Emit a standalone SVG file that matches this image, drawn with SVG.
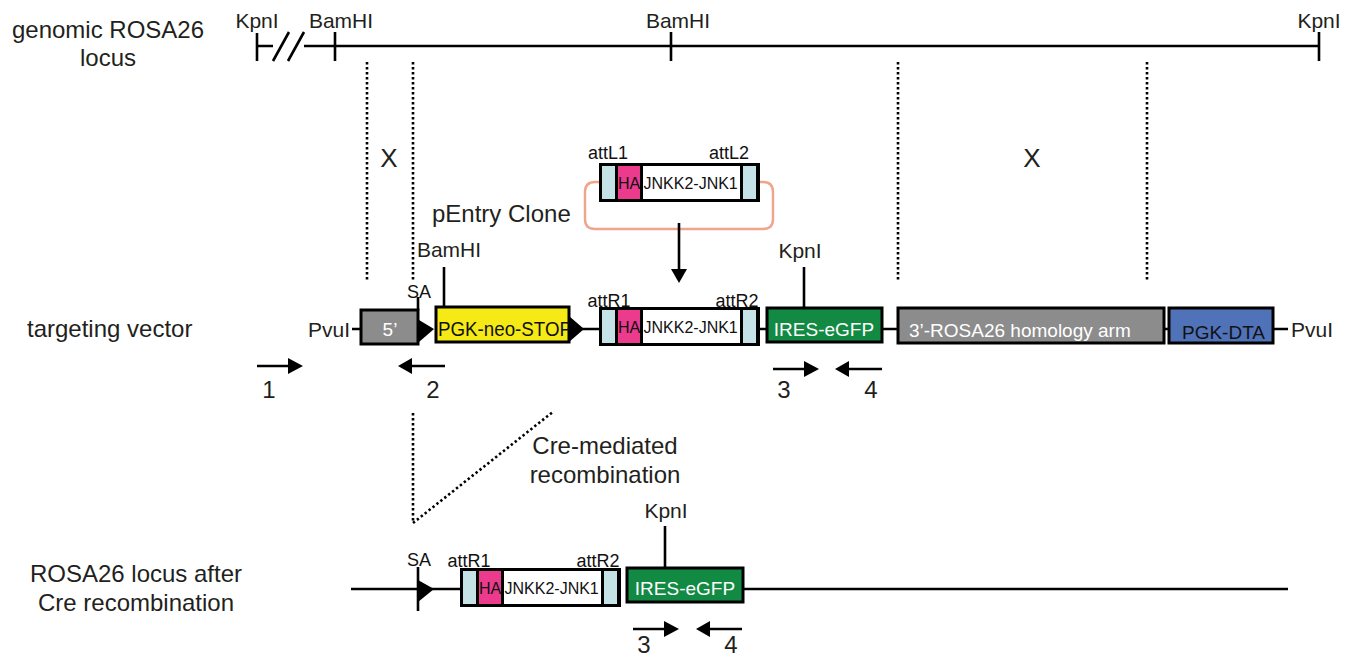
<svg xmlns="http://www.w3.org/2000/svg" width="1345" height="658" viewBox="0 0 1345 658">
<style>
text{font-family:"Liberation Sans",Arial,sans-serif;fill:#231f20}
.t{font-size:24px}
.s{font-size:21px}
.m{font-size:19px}
.c{text-anchor:middle}
.w{fill:#fff}
.l{stroke:#000;stroke-width:2.6;fill:none}
.d{stroke:#000;stroke-width:2.6;fill:none;stroke-dasharray:2.4 2.6}
.b{stroke:#000;stroke-width:3}
.a{font-size:18px;fill:#111}
.in{font-size:16px;fill:#111}
</style>
<defs>
<g id="cassette">
<rect x="0" y="0" width="158" height="36" fill="#fff" class="b"/>
<rect x="0" y="0" width="16" height="36" fill="#c5e2e6" class="b"/>
<rect x="16" y="0" width="25" height="36" fill="#ec3a8c" class="b"/>
<rect x="141" y="0" width="16" height="36" fill="#c5e2e6" class="b"/>
<text x="17.500" y="24" class="in">HA</text>
<text x="43" y="24" class="in">JNKK2-JNK1</text>
</g>
</defs>
<g id="labels">
<text x="108" y="38" class="c t">genomic ROSA26</text>
<text x="108" y="66" class="c t">locus</text>
<text x="27" y="337" class="t">targeting vector</text>
<text x="136" y="582" class="c t">ROSA26 locus after</text>
<text x="136" y="611" class="c t">Cre recombination</text>
<text x="389" y="167" class="c" style="font-size:26px">X</text>
<text x="1032" y="167" class="c" style="font-size:26px">X</text>
<text x="432" y="222" class="t">pEntry Clone</text>
<text x="605" y="454" class="c t">Cre-mediated</text>
<text x="605" y="483" class="c t">recombination</text>
</g>
<g id="connectors">
<path class="l" d="M257 33V61M257 46H273M273 61L289 32M288 61L304 32M304 46H1320M335 32V61M671 32V61M1319 32V61"/>
<path class="d" d="M367 62V281M413 62V281M898 62V281M1147 62V281"/>
<path class="d" d="M413 413V523L554 411"/>
<path class="l" d="M352 329H361M558 329H600M758 329H767M882 329H898M1164 329H1169M1273 329H1288"/>
<path class="l" d="M418 310V297M444 307V267M804 307V267"/>
<path d="M600 182H595Q585 182 585 192V219Q585 229 595 229H763Q773 229 773 219V192Q773 182 763 182H759" fill="none" stroke="#f0a48a" stroke-width="2.400"/>
<path class="l" d="M679 223V270"/>
<path d="M671 269H687L679 283Z"/>
<path class="l" d="M351 589H461M744 589H1288M418 567V611"/>
<path d="M418 580L434 589L418 602Z"/>
<path class="l" d="M665 567V526"/>
<g id="arrows">
<path class="l" d="M257 366H290M445 366H410M773 369H808M882 369H845M633 629H667M742 629H706"/>
<path d="M288 358L303 366L288 374ZM412 358L398 366L412 374ZM804 361L819 369L804 377ZM849 361L835 369L849 377ZM664 621L679 629L664 637ZM710 621L696 629L710 637Z"/>
</g>
</g>
<g id="genomic-sites">
<text x="257" y="28" class="s c">KpnI</text>
<text x="341" y="28" class="s c">BamHI</text>
<text x="678" y="28" class="s c">BamHI</text>
<text x="1319" y="28" class="s c">KpnI</text>
</g>
<g id="pentry-cassette">
<use href="#cassette" x="600.500" y="164.500"/>
<text x="608" y="159" class="a c">attL1</text>
<text x="729" y="159" class="a c">attL2</text>
</g>
<g id="five-prime">
<rect x="361" y="310" width="57" height="34" fill="#8c8c8c" class="b"/>
<text x="390" y="336" class="m c w">5’</text>
<text x="308" y="337" class="s">PvuI</text>
<text x="419" y="298" class="a c">SA</text>
<path d="M419 320L434 329L419 342Z"/>
</g>
<g id="pgk-neo-stop">
<rect x="436" y="307" width="133" height="35" fill="#f5e916" class="b"/>
<text x="438" y="336" style="font-size:19.500px;fill:#111" textLength="134" lengthAdjust="spacingAndGlyphs">PGK-neo-STOP</text>
<path d="M569 316L584 329L569 342Z"/>
<text x="449" y="257" class="s c">BamHI</text>
</g>
<g id="vector-cassette">
<use href="#cassette" x="600.500" y="308.500"/>
<text x="609" y="307" class="a c">attR1</text>
<text x="737" y="307" class="a c">attR2</text>
</g>
<g id="ires-vector">
<rect x="767" y="308" width="115" height="34" fill="#128a43" class="b"/>
<text x="824" y="336" class="m c w">IRES-eGFP</text>
<text x="800" y="258" class="s c">KpnI</text>
</g>
<g id="homology-arm">
<rect x="898" y="308" width="266" height="35" fill="#8c8c8c" class="b"/>
<text x="909" y="337" class="m w">3’-ROSA26 homology arm</text>
</g>
<g id="pgk-dta">
<rect x="1169" y="308" width="104" height="35" fill="#5072b9" class="b"/>
<text x="1182" y="339" class="m" style="fill:#111">PGK-DTA</text>
<text x="1291" y="337" class="s">PvuI</text>
</g>
<g id="recombined-cassette">
<use href="#cassette" x="461.500" y="569.500"/>
<text x="469" y="567" class="a c">attR1</text>
<text x="598" y="567" class="a c">attR2</text>
<text x="419" y="566" class="a c">SA</text>
</g>
<g id="ires-recombined">
<rect x="627" y="568" width="116" height="34" fill="#128a43" class="b"/>
<text x="685" y="595" class="m c w">IRES-eGFP</text>
<text x="666" y="518" class="s c">KpnI</text>
</g>
<g id="primer-numbers">
<text x="269" y="398" class="c t">1</text>
<text x="433" y="398" class="c t">2</text>
<text x="784" y="398" class="c t">3</text>
<text x="871" y="398" class="c t">4</text>
<text x="644" y="652.500" class="c t">3</text>
<text x="731" y="652.500" class="c t">4</text>
</g>
</svg>
